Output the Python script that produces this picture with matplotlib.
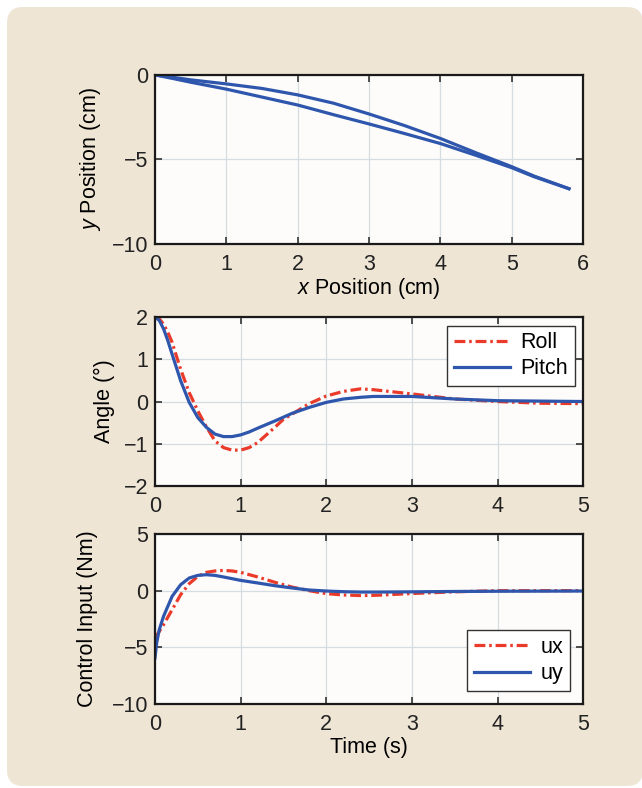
import matplotlib
matplotlib.use("Agg")
import matplotlib.pyplot as plt
from matplotlib.patches import FancyBboxPatch
from matplotlib.transforms import IdentityTransform

plt.rcParams['font.family'] = ['Liberation Sans', 'DejaVu Sans']
plt.rcParams['mathtext.fontset'] = 'custom'
plt.rcParams['mathtext.rm'] = 'Liberation Sans'
plt.rcParams['mathtext.it'] = 'Liberation Sans:italic'
plt.rcParams['font.size'] = 15.5

# Planar trajectory (cm)
path1_x = [0, 0.25, 0.5, 1, 1.5, 2, 2.5, 3, 3.5, 4, 4.5, 5, 5.31, 5.8]
path1_y = [0, -0.14, -0.29, -0.53, -0.8, -1.18, -1.67, -2.31, -3.0, -3.76, -4.61,
           -5.43, -5.98, -6.73]
path2_x = [0, 0.25, 0.5, 1, 1.5, 2, 2.5, 3, 3.5, 4, 4.5, 5, 5.31, 5.8]
path2_y = [0, -0.21, -0.43, -0.84, -1.31, -1.78, -2.35, -2.9, -3.47, -4.06, -4.76,
           -5.49, -6.02, -6.73]

# Attitude response (deg)
t_att = [0, 0.05, 0.1, 0.15, 0.2, 0.3, 0.4, 0.5, 0.6, 0.7, 0.8, 0.9, 1.0, 1.1, 1.2,
         1.4, 1.5, 1.6, 1.8, 2.0, 2.2, 2.4, 2.55, 3.0, 3.5, 4.0, 4.5, 5.0]
pitch = [2.0, 1.92, 1.72, 1.44, 1.12, 0.49, -0.02, -0.38, -0.61, -0.77, -0.83,
         -0.83, -0.79, -0.72, -0.63, -0.46, -0.37, -0.28, -0.14, -0.02, 0.06, 0.1,
         0.12, 0.12, 0.06, 0.02, 0.01, 0.0]
roll = [2.0, 1.96, 1.83, 1.64, 1.4, 0.76, 0.21, -0.22, -0.6, -0.93, -1.09, -1.15,
        -1.15, -1.09, -0.97, -0.61, -0.42, -0.3, -0.05, 0.13, 0.24, 0.3, 0.28, 0.18,
        0.06, 0.0, -0.04, -0.05]

# Control inputs (Nm)
t_u = [0, 0.02, 0.05, 0.1, 0.2, 0.3, 0.4, 0.5, 0.6, 0.7, 0.8, 0.9, 1.0, 1.2, 1.4,
       1.6, 1.8, 2.0, 2.2, 2.4, 2.6, 3.0, 3.5, 4.0, 5.0]
uy = [-5.94, -4.6, -3.44, -2.26, -0.5, 0.53, 1.12, 1.35, 1.41, 1.35, 1.21, 1.06,
      0.91, 0.68, 0.44, 0.24, 0.06, -0.03, -0.09, -0.12, -0.12, -0.1, -0.07, -0.05,
      -0.03]
ux = [-4.18, -3.95, -3.6, -3.0, -1.68, -0.35, 0.62, 1.26, 1.62, 1.74, 1.79, 1.74,
      1.62, 1.21, 0.74, 0.32, 0.0, -0.26, -0.38, -0.43, -0.4, -0.25, -0.1, 0.0, 0.0]

blue = '#2f56ad'
red = '#ea3a2a'
dashdot = (3.4, 1.2, 0.8, 1.2)

fig = plt.figure(figsize=(6.42, 7.88), dpi=100, facecolor='white')
fig.patches.append(FancyBboxPatch((7, 2), 636, 779, boxstyle='round,pad=0,rounding_size=16',
                                  transform=IdentityTransform(), facecolor='#efe5d5',
                                  edgecolor='none', figure=fig, zorder=-5))

ax1 = fig.add_axes([0.2414, 0.6904, 0.667, 0.2145])
ax2 = fig.add_axes([0.2414, 0.3832, 0.667, 0.2145])
ax3 = fig.add_axes([0.2414, 0.1066, 0.667, 0.2157])

for ax in (ax1, ax2, ax3):
    ax.set_facecolor('#fdfcfa')
    ax.grid(True, color='#d5dde2', linewidth=0.9)
    ax.set_axisbelow(True)
    ax.tick_params(direction='in', top=True, right=True, length=5, width=1.1,
                   labelsize=15.5, colors='#222222')
    ax.tick_params(axis='x', pad=7)
    ax.tick_params(axis='y', pad=5)
    for s in ax.spines.values():
        s.set_linewidth(1.6)
        s.set_color('#1a1a1a')

ax1.plot(path1_x, path1_y, color=blue, lw=2.3)
ax1.plot(path2_x, path2_y, color=blue, lw=2.3)
ax1.set_xlim(0, 6)
ax1.set_ylim(-10, 0)
ax1.set_xticks(range(0, 7))
ax1.set_yticks([-10, -5, 0])
ax1.set_yticklabels(['\u221210', '\u22125', '0'])
ax1.set_xlabel(r'$\it{x}$ Position (cm)', labelpad=1)
ax1.set_ylabel(r'$\it{y}$ Position (cm)', labelpad=6.5)

ax2.plot(t_att, roll, color=red, lw=2.3, dashes=dashdot, label='Roll')
ax2.plot(t_att, pitch, color=blue, lw=2.3, label='Pitch')
ax2.set_xlim(0, 5)
ax2.set_ylim(-2, 2)
ax2.set_yticks([-2, -1, 0, 1, 2])
ax2.set_yticklabels(['\u22122', '\u22121', '0', '1', '2'])
ax2.set_ylabel('Angle (\u00b0)', labelpad=6.5)
leg2 = ax2.legend(loc='upper right', fontsize=15.5, fancybox=False, framealpha=1,
                  edgecolor='#333333', borderaxespad=0.4, handlelength=2.6,
                  borderpad=0.3, labelspacing=0.25, handletextpad=0.5)
leg2.get_frame().set_linewidth(1.0)

ax3.plot(t_u, ux, color=red, lw=2.3, dashes=dashdot, label='ux')
ax3.plot(t_u, uy, color=blue, lw=2.3, label='uy')
ax3.set_xlim(0, 5)
ax3.set_ylim(-10, 5)
ax3.set_yticks([-10, -5, 0, 5])
ax3.set_yticklabels(['\u221210', '\u22125', '0', '5'])
ax3.set_xlabel('Time (s)', labelpad=2)
ax3.set_ylabel('Control Input (Nm)', labelpad=10)
leg3 = ax3.legend(loc='lower right', fontsize=15.5, fancybox=False, framealpha=1,
                  edgecolor='#333333', borderaxespad=0.62, handlelength=2.6,
                  borderpad=0.3, labelspacing=0.25, handletextpad=0.5)
leg3.get_frame().set_linewidth(1.0)

fig.savefig('out.png', dpi=100, facecolor=fig.get_facecolor())
